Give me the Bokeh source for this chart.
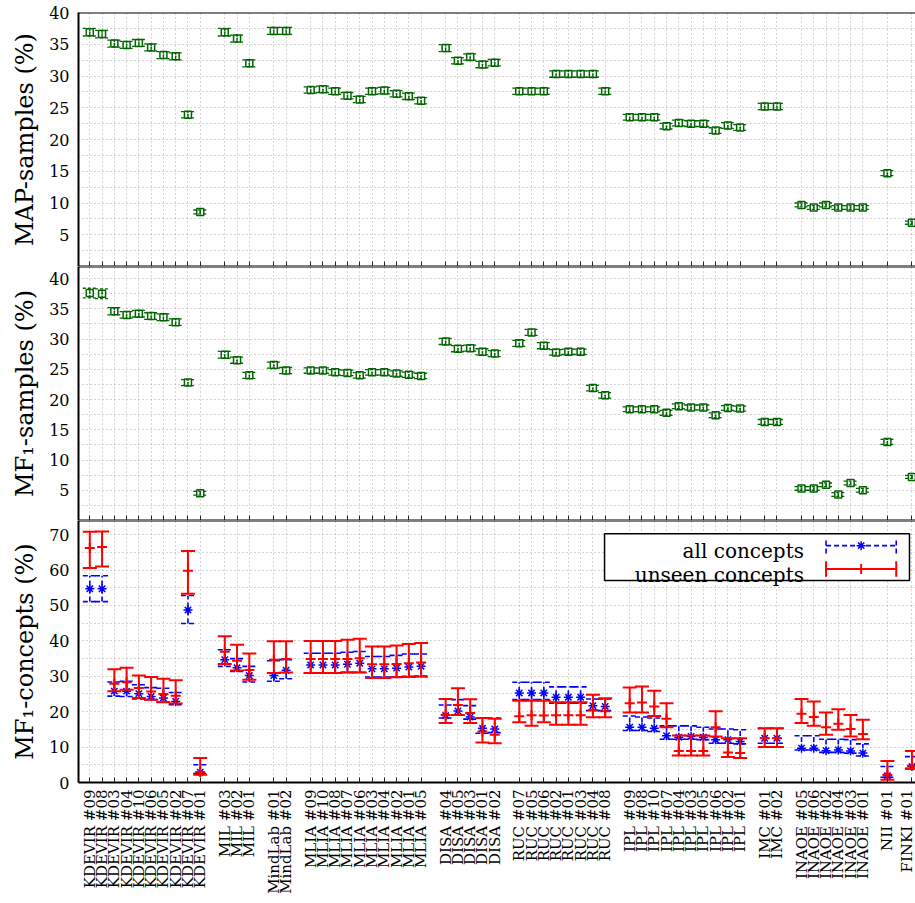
import math
from bokeh.plotting import figure
from bokeh.layouts import column
from bokeh.models import ColumnDataSource, FixedTicker, Range1d, Span, BoxAnnotation, Label
from bokeh.transform import dodge
from bokeh.embed import file_html
from bokeh.resources import INLINE

# ---------------- data ----------------
groups = ["KDEVIR", "MIL", "MindLab", "MLIA", "DISA", "RUC", "IPL", "IMC", "INAOE", "NII", "FINKI"]
runs = [
    ["#09", "#08", "#03", "#04", "#10", "#06", "#05", "#02", "#07", "#01"],
    ["#03", "#02", "#01"],
    ["#01", "#02"],
    ["#09", "#10", "#08", "#07", "#06", "#03", "#04", "#02", "#01", "#05"],
    ["#04", "#05", "#03", "#01", "#02"],
    ["#07", "#05", "#06", "#02", "#01", "#03", "#04", "#08"],
    ["#09", "#08", "#10", "#07", "#04", "#03", "#05", "#06", "#02", "#01"],
    ["#01", "#02"],
    ["#05", "#06", "#02", "#04", "#03", "#01"],
    ["#01"],
    ["#01"],
]

map_samples = [36.9, 36.6, 35.1, 34.9, 35.2, 34.5, 33.3, 33.1, 23.9, 8.6,
               36.9, 35.9, 32.0,
               37.1, 37.1,
               27.8, 27.9, 27.6, 26.9, 26.3, 27.6, 27.7, 27.2, 26.8, 26.1,
               34.4, 32.4, 33.0, 31.8, 32.1,
               27.6, 27.6, 27.6, 30.3, 30.3, 30.3, 30.3, 27.6,
               23.5, 23.5, 23.5, 22.1, 22.6, 22.5, 22.5, 21.4, 22.2, 21.9,
               25.2, 25.2,
               9.7, 9.3, 9.7, 9.3, 9.3, 9.3,
               14.7,
               6.9]
map_err = [0.6, 0.6, 0.55, 0.55, 0.55, 0.55, 0.55, 0.55, 0.5, 0.3,
           0.6, 0.55, 0.55,
           0.55, 0.55,
           0.5, 0.5, 0.5, 0.5, 0.5, 0.5, 0.5, 0.5, 0.5, 0.5,
           0.55, 0.5, 0.5, 0.5, 0.5,
           0.5, 0.5, 0.5, 0.5, 0.5, 0.5, 0.5, 0.5,
           0.45, 0.45, 0.45, 0.45, 0.45, 0.45, 0.45, 0.45, 0.45, 0.45,
           0.5, 0.5,
           0.3, 0.3, 0.3, 0.3, 0.3, 0.3,
           0.4,
           0.25]

mf1_samples = [37.6, 37.5, 34.6, 34.0, 34.2, 33.8, 33.6, 32.8, 22.8, 4.5,
               27.4, 26.5, 24.0,
               25.7, 24.8,
               24.8, 24.8, 24.5, 24.4, 24.0, 24.5, 24.5, 24.3, 24.1, 23.9,
               29.6, 28.4, 28.5, 27.9, 27.6,
               29.3, 31.1, 28.9, 27.8, 27.9, 27.9, 21.9, 20.7,
               18.4, 18.4, 18.4, 17.8, 18.9, 18.7, 18.7, 17.4, 18.6, 18.5,
               16.3, 16.3,
               5.3, 5.3, 5.9, 4.3, 6.2, 5.0,
               13.0,
               7.2]
mf1_samples_err = [0.8, 0.8, 0.6, 0.55, 0.55, 0.55, 0.55, 0.55, 0.5, 0.3,
                   0.55, 0.5, 0.5,
                   0.5, 0.5,
                   0.45, 0.45, 0.45, 0.45, 0.45, 0.45, 0.45, 0.45, 0.45, 0.45,
                   0.5, 0.5, 0.5, 0.5, 0.5,
                   0.5, 0.5, 0.5, 0.45, 0.45, 0.45, 0.45, 0.45,
                   0.4, 0.4, 0.4, 0.4, 0.4, 0.4, 0.4, 0.4, 0.4, 0.4,
                   0.4, 0.4,
                   0.3, 0.3, 0.3, 0.3, 0.3, 0.3,
                   0.4,
                   0.25]

# MF1-concepts, all concepts (centre, low, high)
all_c = [54.7, 54.7, 25.8, 25.8, 25.1, 24.3, 23.9, 22.9, 48.7, 2.9,
         34.7, 32.4, 30.2,
         30.2, 31.7,
         33.2, 33.2, 33.2, 33.4, 33.7, 32.1, 32.1, 32.3, 32.6, 32.8,
         18.9, 20.2, 18.5, 15.3, 15.1,
         25.3, 25.3, 25.3, 24.1, 24.1, 24.1, 21.7, 21.5,
         15.6, 15.6, 15.3, 13.2, 12.8, 13.0, 12.8, 12.1, 12.1, 11.6,
         12.5, 12.5,
         9.7, 9.7, 9.0, 9.2, 8.9, 8.3,
         1.9,
         4.5]
all_lo = [51.1, 51.1, 24.4, 24.3, 23.6, 23.4, 22.7, 22.0, 44.9, 2.5,
          32.8, 31.4, 28.4,
          28.6, 29.3,
          30.9, 30.9, 30.9, 31.1, 31.1, 29.8, 29.8, 29.8, 30.0, 30.1,
          18.2, 19.1, 17.9, 13.9, 14.1,
          23.4, 23.4, 23.4, 22.4, 22.4, 22.4, 20.3, 20.3,
          14.7, 14.7, 14.4, 12.2, 12.2, 12.2, 12.1, 11.1, 11.1, 10.9,
          11.1, 11.1,
          9.2, 9.2, 8.5, 8.5, 8.3, 7.5,
          1.5,
          4.0]
all_hi = [58.4, 58.4, 28.4, 28.6, 27.6, 26.8, 26.6, 25.4, 52.8, 5.0,
          37.5, 35.0, 32.8,
          34.4, 34.7,
          36.5, 36.5, 36.5, 36.8, 37.0, 35.6, 35.6, 35.9, 36.3, 36.3,
          21.9, 23.4, 21.7, 18.2, 18.2,
          28.3, 28.3, 28.3, 27.0, 27.0, 27.0, 23.6, 23.6,
          18.8, 18.5, 18.2, 16.0, 16.0, 16.0, 15.6, 15.1, 15.1, 14.9,
          15.3, 15.3,
          13.2, 13.2, 12.2, 12.2, 12.1, 10.9,
          4.5,
          7.3]

# MF1-concepts, unseen concepts (centre, low, high)
unseen_c = [66.2, 66.5, 27.9, 28.3, 26.7, 25.7, 25.0, 24.5, 59.8, 3.0,
            36.9, 34.4, 31.8,
            34.7, 34.9,
            34.9, 34.9, 34.9, 34.9, 35.1, 33.4, 33.4, 33.5, 33.7, 33.9,
            19.1, 21.9, 19.6, 14.4, 13.5,
            18.7, 19.0, 18.9, 19.0, 19.0, 19.0, 20.5, 20.1,
            22.4, 22.6, 21.5, 18.0, 8.9, 8.9, 8.9, 15.6, 8.5, 8.3,
            12.5, 12.5,
            19.4, 18.5, 15.6, 16.6, 15.1, 13.7,
            2.2,
            4.7]
unseen_lo = [60.6, 61.0, 25.8, 26.2, 23.9, 23.4, 22.7, 22.3, 53.3, 2.2,
             33.5, 31.6, 29.0,
             30.9, 31.1,
             30.9, 30.9, 30.9, 31.1, 31.1, 29.5, 29.5, 29.7, 29.8, 29.9,
             16.8, 19.1, 16.8, 11.3, 11.1,
             17.0, 16.0, 17.0, 16.3, 16.3, 16.3, 18.4, 18.4,
             19.8, 19.8, 18.8, 15.6, 7.6, 7.6, 7.6, 13.0, 7.2, 6.9,
             10.0, 10.0,
             16.8, 16.0, 13.5, 14.9, 13.0, 12.2,
             0.8,
             3.8]
unseen_hi = [70.8, 70.9, 32.0, 32.4, 30.2, 29.8, 29.3, 28.9, 65.4, 6.9,
             41.3, 38.9, 36.4,
             39.9, 39.9,
             40.0, 40.0, 40.0, 40.3, 40.6, 38.4, 38.4, 38.7, 39.1, 39.4,
             23.6, 26.6, 23.5, 18.2, 18.0,
             23.1, 23.1, 23.1, 22.7, 22.7, 22.7, 24.8, 23.8,
             26.8, 27.1, 25.9, 22.4, 13.3, 13.3, 13.3, 20.1, 12.5, 12.5,
             15.3, 15.3,
             23.6, 22.9, 19.8, 20.7, 19.1, 17.7,
             6.1,
             8.9]

y1_ticks = [5, 10, 15, 20, 25, 30, 35, 40]
y1_minor = [2.5, 7.5, 12.5, 17.5, 22.5, 27.5, 32.5, 37.5]
y3_ticks = [0, 10, 20, 30, 40, 50, 60, 70]
y3_minor = [5, 15, 25, 35, 45, 55, 65]

legend_labels = ["all concepts", "unseen concepts"]

# ---------------- layout / style ----------------
FONT = "DejaVu Serif"
GREEN = "#006400"
BLUE = "#0000ff"
RED = "#ff0000"
GRID = "#a8a8a8"
CAP = 0.57          # half width of error-bar caps, x units
X_RANGE = (0.08, 68.29)
FRAME_W = 837

xs, labels = [], []
pos = 0
for g, rs in zip(groups, runs):
    for r in rs:
        pos += 1
        xs.append(pos)
        labels.append(f"{g} {r}")
    pos += 1


def make_fig(y0, y1, frame_h, b_top, b_bottom, ylabel, yticks, yminor, show_xlabels):
    p = figure(frame_width=FRAME_W, frame_height=frame_h,
               x_range=Range1d(*X_RANGE), y_range=Range1d(y0, y1),
               output_backend="svg", toolbar_location=None,
               min_border_left=78, min_border_right=0,
               min_border_top=b_top, min_border_bottom=b_bottom)
    p.outline_line_color = None
    p.background_fill_color = "white"
    p.border_fill_color = "white"

    yax = p.yaxis[0]
    yax.ticker = FixedTicker(ticks=yticks, minor_ticks=yminor)
    yax.axis_label = ylabel
    yax.axis_label_text_font = FONT
    yax.axis_label_text_font_size = "24px"
    yax.axis_label_text_font_style = "normal"
    yax.axis_label_text_color = "black"
    yax.axis_label_standoff = 7
    yax.major_label_text_font = FONT
    yax.major_label_text_font_size = "16px"
    yax.major_label_text_color = "black"
    yax.major_label_standoff = 9
    yax.major_tick_in = 0
    yax.major_tick_out = 0
    yax.minor_tick_in = 0
    yax.minor_tick_out = 0
    yax.axis_line_width = 2
    yax.axis_line_color = "black"

    xax = p.xaxis[0]
    xax.major_tick_out = 0
    xax.minor_tick_out = 0
    xax.axis_line_width = 2
    xax.axis_line_color = "black"
    xg = p.xgrid[0]
    if show_xlabels:
        xax.ticker = FixedTicker(ticks=xs)
        xax.major_tick_in = 5
        xax.minor_tick_in = 0
        xax.major_tick_line_color = "#222222"
        xax.major_label_overrides = {x: lab for x, lab in zip(xs, labels)}
        xax.major_label_orientation = math.pi / 2
        xax.major_label_text_font = FONT
        xax.major_label_text_font_size = "15px"
        xax.major_label_text_color = "black"
        xax.major_label_standoff = 7
        xg.grid_line_color = GRID
        xg.grid_line_dash = "1 3"
    else:
        # tick marks without labels: use minor ticks only
        xax.ticker = FixedTicker(ticks=[], minor_ticks=xs)
        xax.major_tick_in = 0
        xax.minor_tick_in = 5
        xax.minor_tick_line_color = "#222222"
        xax.major_label_standoff = 0
        xg.grid_line_color = None
        xg.minor_grid_line_color = GRID
        xg.minor_grid_line_dash = "1 3"

    yg = p.ygrid[0]
    yg.grid_line_color = GRID
    yg.grid_line_dash = "1 3"
    yg.minor_grid_line_color = GRID
    yg.minor_grid_line_dash = "1 3"

    p.add_layout(Span(location=y1, dimension="width", line_color="black", line_width=2))
    return p


def errorbars(p, src, color, width, dash):
    kw = dict(source=src, line_color=color, line_width=width, line_dash=dash)
    p.segment(x0="x", y0="lo", x1="x", y1="hi", **kw)
    p.segment(x0=dodge("x", -CAP), y0="lo", x1=dodge("x", CAP), y1="lo", **kw)
    p.segment(x0=dodge("x", -CAP), y0="hi", x1=dodge("x", CAP), y1="hi", **kw)


# ---------- panel 1: MAP-samples ----------
p1 = make_fig(0, 40, 254, 12, 0, "MAP-samples (%)", y1_ticks, y1_minor, False)
s1 = ColumnDataSource(dict(x=xs, y=map_samples,
                           lo=[v - e for v, e in zip(map_samples, map_err)],
                           hi=[v + e for v, e in zip(map_samples, map_err)]))
errorbars(p1, s1, GREEN, 1.3, "3 2")
p1.scatter("x", "y", source=s1, marker="square_dot", size=7, fill_color=None,
           line_color=GREEN, line_width=1.5)

# ---------- panel 2: MF1-samples ----------
p2 = make_fig(0, 42, 254, 0, 0, "MF₁-samples (%)", y1_ticks, y1_minor, False)
s2 = ColumnDataSource(dict(x=xs, y=mf1_samples,
                           lo=[v - e for v, e in zip(mf1_samples, mf1_samples_err)],
                           hi=[v + e for v, e in zip(mf1_samples, mf1_samples_err)]))
errorbars(p2, s2, GREEN, 1.3, "3 2")
p2.scatter("x", "y", source=s2, marker="square_dot", size=7, fill_color=None,
           line_color=GREEN, line_width=1.5)

# ---------- panel 3: MF1-concepts ----------
p3 = make_fig(0, 74, 262, 0, 121, "MF₁-concepts (%)", y3_ticks, y3_minor, True)
sa = ColumnDataSource(dict(x=xs, y=all_c, lo=all_lo, hi=all_hi))
su = ColumnDataSource(dict(x=xs, y=unseen_c, lo=unseen_lo, hi=unseen_hi))
errorbars(p3, sa, BLUE, 1.6, "5 3")
p3.scatter("x", "y", source=sa, marker="asterisk", size=9, line_color=BLUE, line_width=1.5)
errorbars(p3, su, RED, 2, "solid")
p3.scatter("x", "y", source=su, marker="cross", size=10, line_color=RED, line_width=2)

# legend (drawn by hand: text on the left, sample on the right)
LEG_LEFT, LEG_RIGHT, LEG_TOP, LEG_BOTTOM = 42.95, 67.8, 70.27, 57.08
LEG_TEXT_X = 59.2
LEG_TEXT_Y = [65.3, 58.7]
LEG_LINE_Y = [66.9, 60.3]
LEG_LINE_X0, LEG_LINE_X1 = 61.0, 66.72
LEG_CAP = 2.2
p3.add_layout(BoxAnnotation(left=LEG_LEFT, right=LEG_RIGHT, top=LEG_TOP, bottom=LEG_BOTTOM,
                            fill_color="white", fill_alpha=1.0, line_color="black",
                            line_width=1.5, line_alpha=1.0))
for lab, ty in zip(legend_labels, LEG_TEXT_Y):
    p3.add_layout(Label(x=LEG_TEXT_X, y=ty, text=lab, text_align="right",
                        text_baseline="alphabetic", text_font=FONT,
                        text_font_size="20px", text_color="black"))
for ly, color, width, dash, marker, msize in zip(
        LEG_LINE_Y, [BLUE, RED], [1.6, 2], ["5 3", "solid"], ["asterisk", "cross"], [9, 10]):
    mid = (LEG_LINE_X0 + LEG_LINE_X1) / 2
    p3.segment(x0=[LEG_LINE_X0, LEG_LINE_X0, LEG_LINE_X1],
               y0=[ly, ly - LEG_CAP, ly - LEG_CAP],
               x1=[LEG_LINE_X1, LEG_LINE_X0, LEG_LINE_X1],
               y1=[ly, ly + LEG_CAP, ly + LEG_CAP],
               line_color=color, line_width=width, line_dash=dash, level="overlay")
    p3.scatter(x=[mid], y=[ly], marker=marker, size=msize, line_color=color,
               line_width=1.5 if marker == "asterisk" else 2, level="overlay")

layout = column(p1, p2, p3, spacing=0)
open("out.html", "w").write(file_html(layout, INLINE))
